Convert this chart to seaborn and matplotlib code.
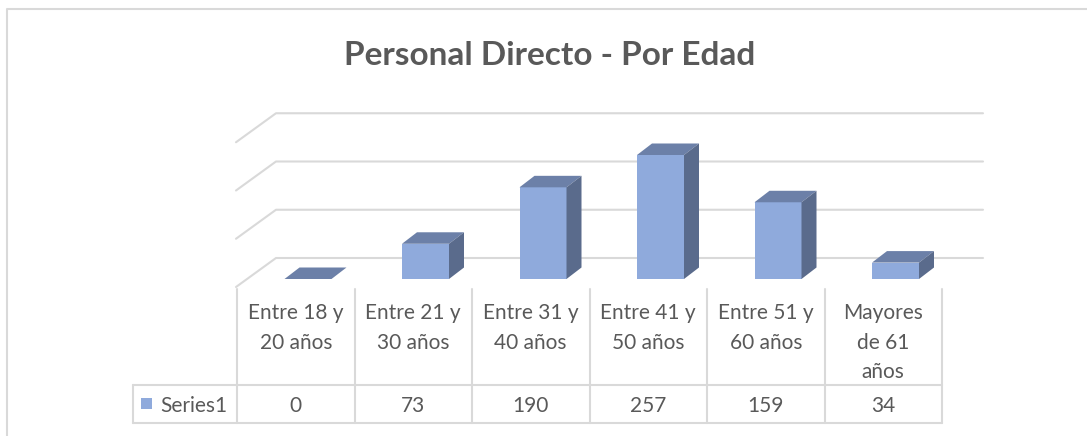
import pandas as pd
import seaborn as sns
import matplotlib.pyplot as plt
from matplotlib.patches import Polygon, Rectangle

categorias = ["Entre 18 y\n20 años", "Entre 21 y\n30 años", "Entre 31 y\n40 años",
              "Entre 41 y\n50 años", "Entre 51 y\n60 años", "Mayores\nde 61\naños"]
valores = [0, 73, 190, 257, 159, 34]
serie = "Series1"
grid_vals = [0, 100, 200, 300]
titulo = "Personal Directo - Por Edad"

df = pd.DataFrame({"Edad": categorias, "Personal": valores})

FRONT = "#8FAADC"
TOP = "#6C80A8"
SIDE = "#5A6B8C"
GRID = "#D9D9D9"
TXT = "#595959"

sns.set_style("white")
plt.rcParams["font.family"] = ["Lato", "DejaVu Sans"]

W, H = 1087, 436
fig = plt.figure(figsize=(W / 100, H / 100), dpi=100)
ax = fig.add_axes([0, 0, 1, 1])

# pixel (from top-left) -> data helpers
X0, DX = 308, 117.5     # first bar front centre, category spacing
Y0, SY = 279, 0.4825    # bar floor, pixels per unit


def px(x):
    return (x - X0) / DX


def py(y):
    return (Y0 - y) / SY


sns.barplot(data=df, x="Edad", y="Personal", color=FRONT, saturation=1,
            width=0.4, errorbar=None, ax=ax, zorder=3, linewidth=0)

# 3D look: top and side faces from each bar
ddx, ddy = 15 / DX, 11.5 / SY
for bar in list(ax.patches):
    x0 = bar.get_x()
    x1 = x0 + bar.get_width()
    h = bar.get_height()
    ax.add_patch(Polygon([(x0, h), (x1, h), (x1 + ddx, h + ddy), (x0 + ddx, h + ddy)],
                         closed=True, facecolor=TOP, edgecolor="none", zorder=3))
    ax.add_patch(Polygon([(x1, 0), (x1 + ddx, ddy), (x1 + ddx, h + ddy), (x1, h)],
                         closed=True, facecolor=SIDE, edgecolor="none", zorder=3))

# gridlines on back wall + left wall
for v in grid_vals:
    yb = v + 21 / SY
    yf = v - 8 / SY
    ax.plot([px(983), px(276), px(236)], [yb, yb, yf], color=GRID, lw=1.5, zorder=1)

# data table
edges = [px(237 + DX * k) for k in range(len(categorias) + 1)]
for e in edges:
    ax.plot([e, e], [py(289), py(423)], color=GRID, lw=1.5, zorder=1)
for yy in (385, 423):
    ax.plot([px(133), edges[-1]], [py(yy), py(yy)], color=GRID, lw=1.5, zorder=1)
ax.plot([px(133), px(133)], [py(385), py(423)], color=GRID, lw=1.5, zorder=1)

for i, (cat, v) in enumerate(zip(categorias, valores)):
    cx = (edges[i] + edges[i + 1]) / 2
    for j, line in enumerate(cat.split("\n")):
        ax.text(cx, py(319 + 29.5 * j), line, ha="center", va="baseline",
                fontsize=15, color=TXT)
    ax.text(cx, py(412), str(v), ha="center", va="baseline", fontsize=15, color=TXT)

ax.add_patch(Rectangle((px(141), py(409)), px(152) - px(141), py(398) - py(409),
                       facecolor=FRONT, edgecolor="none"))
ax.text(px(160), py(412), serie, ha="left", va="baseline", fontsize=15, color=TXT)

ax.text(px(550), py(65), titulo, ha="center", va="baseline", fontsize=24,
        fontweight="bold", color=TXT)

# chart frame
ax.plot([px(7), px(7), px(1087)], [py(436), py(9), py(9)], color=GRID, lw=1.5)

ax.set_xlim(px(0), px(W))
ax.set_ylim(py(H), py(0))
ax.axis("off")

fig.savefig("out.png", dpi=100)
